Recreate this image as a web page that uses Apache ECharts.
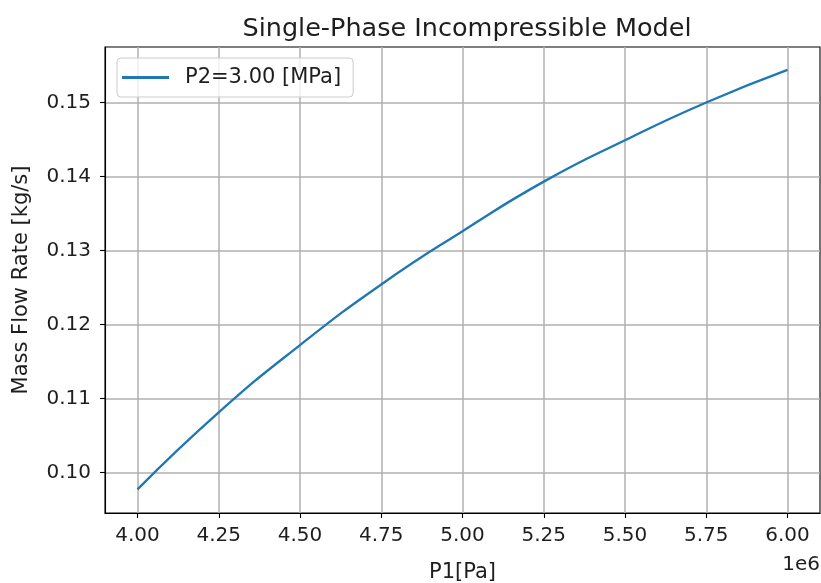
<!DOCTYPE html>
<html>
<head>
<meta charset="utf-8">
<script src="https://cdn.jsdelivr.net/npm/echarts@6/dist/echarts.min.js"></script>
<style>
html,body{margin:0;padding:0;background:#fff;}
#chart{width:821px;height:583px;}
</style>
</head>
<body>
<div id="chart"></div>
<script>
// Data
const p1Values = [4.00e6, 4.25e6, 4.50e6, 4.75e6, 5.00e6, 5.25e6, 5.50e6, 5.75e6, 6.00e6];
const massFlow = [0.0977, 0.1081, 0.1172, 0.1254, 0.1326, 0.1393, 0.1449, 0.1500, 0.1544];
const xTicks = [4.00e6, 4.25e6, 4.50e6, 4.75e6, 5.00e6, 5.25e6, 5.50e6, 5.75e6, 6.00e6];
const yTicks = [0.10, 0.11, 0.12, 0.13, 0.14, 0.15];
const seriesName = 'P2=3.00 [MPa]';
const titleText = 'Single-Phase Incompressible Model';

const FONT = 'DejaVu Sans';
const TXT = '#1e1e1e';

const chart = echarts.init(document.getElementById('chart'), null, {renderer: 'canvas'});
const option = {
  animation: false,
  backgroundColor: '#fff',
  title: {
    text: titleText,
    left: 462, top: 11, textAlign: 'center',
    textStyle: {fontFamily: FONT, fontSize: 25.5, fontWeight: 'normal', color: TXT}
  },
  legend: {
    left: 117, top: 58,
    data: [seriesName],
    icon: 'rect', itemWidth: 47, itemHeight: 3,
    padding: [8, 12, 8, 5],
    backgroundColor: 'rgba(255,255,255,0.8)',
    borderColor: '#cccccc', borderWidth: 1, borderRadius: 4,
    textStyle: {fontFamily: FONT, fontSize: 21, color: TXT, lineHeight: 23, padding: [0, 0, 0, 11]}
  },
  grid: {
    left: 105, right: 1, top: 47, bottom: 70,
    containLabel: false, outerBoundsMode: 'none',
    show: true, borderColor: '#000', borderWidth: 1.1, backgroundColor: 'transparent'
  },
  xAxis: {
    type: 'value', min: 3.9e6, max: 6.1e6,
    name: 'P1[Pa]', nameLocation: 'middle', nameGap: 49,
    nameTextStyle: {fontFamily: FONT, fontSize: 21, color: TXT},
    axisLine: {show: true, lineStyle: {color: '#000', width: 1.1}},
    axisTick: {show: true, length: 5, inside: false, customValues: xTicks, lineStyle: {color: '#000', width: 1.1}},
    axisLabel: {customValues: xTicks, margin: 13, fontFamily: FONT, fontSize: 20, color: TXT,
      formatter: v => (v / 1e6).toFixed(2)},
    splitLine: {show: true, lineStyle: {color: '#b0b0b0', width: 1.5}}
  },
  yAxis: {
    type: 'value', min: 0.0945, max: 0.1575,
    name: 'Mass Flow Rate [kg/s]', nameLocation: 'middle', nameGap: 73, nameRotate: 90,
    nameTextStyle: {fontFamily: FONT, fontSize: 21, color: TXT},
    axisLine: {show: true, lineStyle: {color: '#000', width: 1.1}},
    axisTick: {show: true, length: 5, inside: false, customValues: yTicks, lineStyle: {color: '#000', width: 1.1}},
    axisLabel: {customValues: yTicks, margin: 14, fontFamily: FONT, fontSize: 20, color: TXT,
      formatter: v => v.toFixed(2)},
    splitLine: {show: true, lineStyle: {color: '#b0b0b0', width: 1.5}}
  },
  graphic: [{
    type: 'text', right: 1, top: 555,
    style: {text: '1e6', fontFamily: FONT, fontSize: 20, fill: TXT}
  }],
  series: [{
    name: seriesName, type: 'line',
    data: p1Values.map((x, i) => [x, massFlow[i]]),
    smooth: 0.5, showSymbol: false,
    lineStyle: {color: '#1f77b4', width: 2.3},
    itemStyle: {color: '#1f77b4'}
  }]
};
chart.setOption(option);
</script>
</body>
</html>
